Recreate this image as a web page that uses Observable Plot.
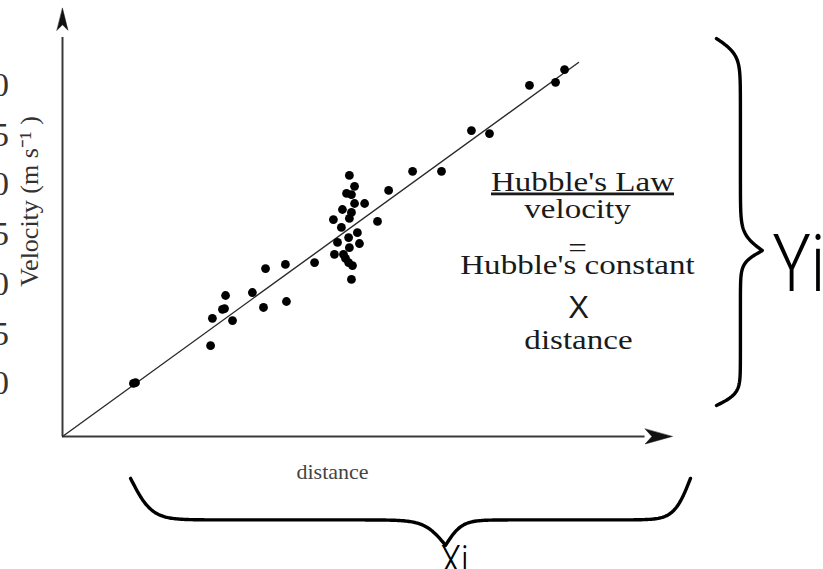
<!DOCTYPE html>
<html>
<head>
<meta charset="utf-8">
<script src="https://cdn.jsdelivr.net/npm/d3@7"></script>
<script src="https://cdn.jsdelivr.net/npm/@observablehq/plot@0.6"></script>
<style>
  html, body { margin: 0; padding: 0; background: #fff; overflow: hidden; }
  #chart { width: 823px; height: 569px; }
</style>
</head>
<body>
<div id="chart"></div>
<script>
// Galaxy distances (Mpc) and recession velocities (km/s)
const distance = [0.275, 0.283, 0.574, 0.581, 0.628, 0.620, 0.632, 0.659, 0.736, 0.779,
                  0.787, 0.864, 0.868, 0.977, 1.050, 1.054, 1.066, 1.081, 1.085, 1.089,
                  1.097, 1.109, 1.109, 1.112, 1.132, 1.101, 1.120, 1.112, 1.120, 1.132,
                  1.171, 1.143, 1.151, 1.112, 1.124, 1.120, 1.221, 1.264, 1.357, 1.469,
                  1.585, 1.655, 1.810, 1.911, 1.946];
const velocity = [142, 144, 243, 316, 342, 340, 377, 310, 385, 345,
                  449, 460, 361, 465, 580, 487, 519, 559, 607, 487,
                  476, 465, 532, 698, 669, 650, 647, 583, 599, 623,
                  623, 545, 516, 505, 457, 420, 575, 658, 709, 709,
                  818, 810, 939, 947, 981];

// Hubble's constant (km/s per Mpc) and the span of the fitted line
const hubbleConstant = 500;
const fitSpan = [0, 2.0];

// Tick labels along the left edge
const sideTicks = [0, 5, 10, 15, 20, 25, 30];

// Text of the law annotation
const lawTitle = "Hubble's Law";
const lawLines = ["velocity", "=", "Hubble's constant"];
const lawTimes = "X";
const lawLast = "distance";

// Axis titles and brace labels
const xTitle = "distance";
const yTitle = "Velocity (m s\u207B\u00B9 )";
const xBraceLabel = "Xi";
const yBraceLabel = "Yi";

// ---------------------------------------------------------------
const galaxies = distance.map((d, i) => ({distance: d, velocity: velocity[i]}));
const fit = fitSpan.map(d => ({distance: d, velocity: hubbleConstant * d}));

// Extent of the drawing in data units (no margins: the frame is the whole SVG)
const xDomain = [-0.2403, 2.9496];
const yDomain = [-355.6, 1165.8];

// Axis extents (data units)
const xAxisEnd = 2.318;
const yAxisEnd = 1107;

// Curly brace generator: a pair of sigmoids on each side of the cusp
function brace({from, to, at, depth, cusp, plateau, beta, axis}) {
  const sig = z => 1 / (1 + Math.exp(-z));
  const n = 400, pts = [];
  for (let i = 0; i <= n; ++i) {
    const t = i / n;
    const u = t <= cusp ? t / cusp : (1 - t) / (1 - cusp);
    const g = plateau * (2 * sig(beta * u) - 1) + (1 - plateau) * 2 * sig(beta * (u - 1));
    const along = from + t * (to - from);
    const off = at + depth * g;
    pts.push(axis === "x" ? {distance: along, velocity: off} : {distance: off, velocity: along});
  }
  return pts;
}
const xBrace = brace({from: 0.264, to: 2.434, at: -112, depth: -179, cusp: 0.5625, plateau: 0.62, beta: 30, axis: "x"});
const yBrace = brace({from: 83, to: 1064, at: 2.535, depth: 0.178, cusp: 0.422, plateau: 0.52, beta: 26, axis: "y"});

// Filled arrowhead for the axes
const arrowHead = {
  draw(context, l, r) {
    const w = r;
    context.moveTo(0, -l);
    context.lineTo(w, 0);
    context.lineTo(0, -l * 0.25);
    context.lineTo(-w, 0);
    context.closePath();
  }
};

const serif = "'Liberation Serif', 'Times New Roman', serif";
const sans = "'Liberation Sans', Arial, sans-serif";
const hand = "Roboto, Lato, 'Open Sans', sans-serif";

const svg = Plot.plot({
  width: 823,
  height: 569,
  margin: 0,
  x: {domain: xDomain, axis: null},
  y: {domain: yDomain, axis: null},
  style: {background: "#fff", overflow: "hidden"},
  marks: [
    // cropped tick labels at the far left
    Plot.text(sideTicks, {
      x: xDomain[0] + 0.033, y: t => 142 + 26.6 * t, text: t => String(t),
      textAnchor: "end", fontSize: 34, fontFamily: serif, fill: "#333"
    }),
    // axes
    Plot.ruleX([0], {y1: 0, y2: yAxisEnd - 40, stroke: "#3a3a3a", strokeWidth: 2}),
    Plot.ruleY([0], {x1: 0, x2: xAxisEnd - 0.06, stroke: "#3a3a3a", strokeWidth: 2}),
    Plot.vector([{distance: 0, velocity: yAxisEnd + 38}], {
      x: "distance", y: "velocity", rotate: 0, length: 22, r: 5.5, anchor: "end",
      shape: arrowHead, fill: "#111", stroke: "#111", strokeWidth: 0.5
    }),
    Plot.vector([{distance: xAxisEnd + 0.045, velocity: 0}], {
      x: "distance", y: "velocity", rotate: 90, length: 27, r: 7.5, anchor: "end",
      shape: arrowHead, fill: "#111", stroke: "#111", strokeWidth: 0.5
    }),
    // fitted Hubble line
    Plot.line(fit, {x: "distance", y: "velocity", stroke: "#2a2a2a", strokeWidth: 1.4}),
    // galaxies
    Plot.dot(galaxies, {x: "distance", y: "velocity", r: 4.4, fill: "#000", stroke: "none"}),
    // axis titles
    Plot.text([xTitle], {
      frameAnchor: "top-left", dx: 332, dy: 478, text: d => d,
      textAnchor: "middle", lineAnchor: "bottom", fontSize: 22, fontFamily: serif, fill: "#444"
    }),
    Plot.text([yTitle], {
      frameAnchor: "top-left", dx: 37, dy: 201, text: d => d, rotate: -90,
      textAnchor: "middle", lineAnchor: "bottom", fontSize: 26, fontFamily: serif, fill: "#333"
    }),
    // law annotation
    Plot.text([lawTitle], {
      frameAnchor: "top-left", dx: 582, dy: 190, text: d => d, className: "law law-title",
      textAnchor: "middle", lineAnchor: "bottom", fontSize: 28, fontFamily: serif, fill: "#1a1a1a"
    }),
    Plot.text(lawLines, {
      frameAnchor: "top-left", dx: 577, dy: 0, text: d => d, className: "law law-body",
      textAnchor: "middle", lineAnchor: "bottom", fontSize: 28, fontFamily: serif, fill: "#1a1a1a"
    }),
    Plot.text([lawTimes], {
      frameAnchor: "top-left", dx: 578, dy: 317, text: d => d,
      textAnchor: "middle", lineAnchor: "bottom", fontSize: 31, fontFamily: sans, fill: "#1a1a1a"
    }),
    Plot.text([lawLast], {
      frameAnchor: "top-left", dx: 578, dy: 348, text: d => d, className: "law",
      textAnchor: "middle", lineAnchor: "bottom", fontSize: 28, fontFamily: serif, fill: "#1a1a1a"
    }),
    // hand-drawn braces and their labels
    Plot.line(xBrace, {x: "distance", y: "velocity", stroke: "#000", strokeWidth: 3.4, strokeLinecap: "round", strokeLinejoin: "round"}),
    Plot.line(yBrace, {x: "distance", y: "velocity", stroke: "#000", strokeWidth: 3.4, strokeLinecap: "round", strokeLinejoin: "round"}),
    Plot.text([xBraceLabel], {
      frameAnchor: "top-left", dx: 440, dy: 574, text: d => d, className: "hand",
      textAnchor: "start", lineAnchor: "bottom", fontSize: 42, fontWeight: 300, fontFamily: hand, fill: "#000"
    }),
    Plot.text([yBraceLabel], {
      frameAnchor: "top-left", dx: 772, dy: 290, text: d => d, className: "hand",
      textAnchor: "start", lineAnchor: "bottom", fontSize: 80, fontWeight: 300, fontFamily: hand, fill: "#000"
    })
  ]
});

document.getElementById("chart").append(svg);

// place the body lines of the law under its title
const lawBaselines = [217, 256, 273];
d3.select(svg).selectAll(".law-body text").each(function(d, i) {
  const t = d3.select(this);
  const tr = t.attr("transform") || "";
  const m = /translate\(([-\d.]+),([-\d.]+)\)/.exec(tr);
  if (m) t.attr("transform", `translate(${m[1]},${+m[2] + lawBaselines[i]})`);
});

// the annotation is set slightly wide
d3.select(svg).selectAll(".law text").each(function() {
  const w = this.getComputedTextLength();
  this.setAttribute("textLength", (w * 1.18).toFixed(1));
  this.setAttribute("lengthAdjust", "spacingAndGlyphs");
});
d3.select(svg).selectAll(".law-title text").style("text-decoration", "underline");

// handwriting is tall and narrow
d3.select(svg).selectAll(".hand text").each(function() {
  const w = this.getComputedTextLength();
  this.setAttribute("textLength", (w * 0.8).toFixed(1));
  this.setAttribute("lengthAdjust", "spacingAndGlyphs");
});
</script>
</body>
</html>
